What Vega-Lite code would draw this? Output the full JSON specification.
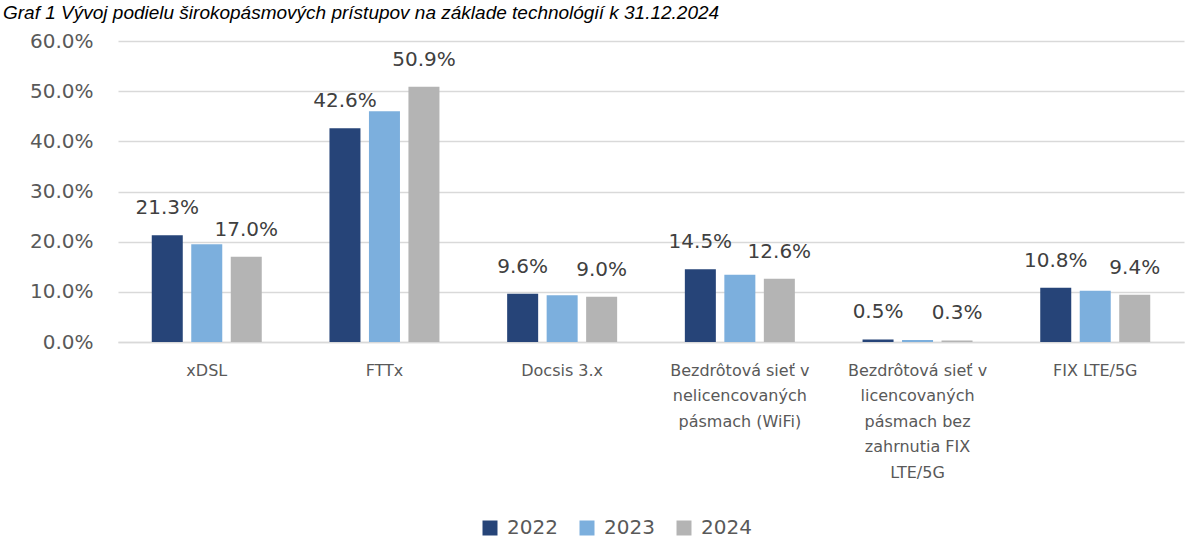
{
  "$schema": "https://vega.github.io/schema/vega-lite/v6.json",
  "autosize": {"type": "none"},
  "width": 1066,
  "height": 301,
  "padding": {"left": 118, "top": 41, "right": 19, "bottom": 217},
  "background": "white",
  "title": {
    "text": "Graf 1 Vývoj podielu širokopásmových prístupov na základe technológií k 31.12.2024",
    "anchor": "start",
    "frame": "group",
    "orient": "top",
    "baseline": "alphabetic",
    "offset": 16,
    "dy": 23,
    "dx": -115,
    "font": "Liberation Sans",
    "fontStyle": "italic",
    "fontWeight": "normal",
    "fontSize": 19,
    "color": "#000000"
  },
  "data": {
    "values": [
      {"tech": "xDSL", "year": "2022", "share": 0.213},
      {"tech": "xDSL", "year": "2023", "share": 0.195},
      {"tech": "xDSL", "year": "2024", "share": 0.170},
      {"tech": "FTTx", "year": "2022", "share": 0.426},
      {"tech": "FTTx", "year": "2023", "share": 0.460},
      {"tech": "FTTx", "year": "2024", "share": 0.509},
      {"tech": "Docsis 3.x", "year": "2022", "share": 0.096},
      {"tech": "Docsis 3.x", "year": "2023", "share": 0.093},
      {"tech": "Docsis 3.x", "year": "2024", "share": 0.090},
      {"tech": "Bezdrôtová sieť v\nnelicencovaných\npásmach (WiFi)", "year": "2022", "share": 0.145},
      {"tech": "Bezdrôtová sieť v\nnelicencovaných\npásmach (WiFi)", "year": "2023", "share": 0.134},
      {"tech": "Bezdrôtová sieť v\nnelicencovaných\npásmach (WiFi)", "year": "2024", "share": 0.126},
      {"tech": "Bezdrôtová sieť v\nlicencovaných\npásmach bez\nzahrnutia FIX\nLTE/5G", "year": "2022", "share": 0.005},
      {"tech": "Bezdrôtová sieť v\nlicencovaných\npásmach bez\nzahrnutia FIX\nLTE/5G", "year": "2023", "share": 0.004},
      {"tech": "Bezdrôtová sieť v\nlicencovaných\npásmach bez\nzahrnutia FIX\nLTE/5G", "year": "2024", "share": 0.003},
      {"tech": "FIX LTE/5G", "year": "2022", "share": 0.108},
      {"tech": "FIX LTE/5G", "year": "2023", "share": 0.102},
      {"tech": "FIX LTE/5G", "year": "2024", "share": 0.094}
    ]
  },
  "encoding": {
    "x": {
      "field": "tech",
      "type": "nominal",
      "sort": null,
      "title": null,
      "scale": {"paddingInner": 0.381, "paddingOuter": 0.19},
      "axis": {
        "labelAngle": 0,
        "labelExpr": "split(datum.label, '\\n')",
        "labelLineHeight": 25.6,
        "labelFont": "DejaVu Sans",
        "labelFontSize": 16,
        "labelColor": "#595959",
        "labelPadding": 20,
        "labelBaseline": "top",
        "labelLimit": 0,
        "ticks": false,
        "domain": true,
        "domainColor": "#D9D9D9",
        "domainWidth": 1.3,
        "grid": false
      }
    },
    "xOffset": {
      "field": "year",
      "type": "nominal",
      "scale": {"paddingInner": 0.215, "paddingOuter": 0}
    },
    "y": {
      "field": "share",
      "type": "quantitative",
      "title": null,
      "scale": {"domain": [0, 0.6], "nice": false},
      "axis": {
        "values": [0, 0.1, 0.2, 0.3, 0.4, 0.5, 0.6],
        "format": ".1%",
        "labelFont": "DejaVu Sans",
        "labelFontSize": 20,
        "labelColor": "#595959",
        "labelPadding": 25,
        "ticks": false,
        "domain": false,
        "grid": true,
        "gridColor": "#D9D9D9",
        "gridWidth": 1.3
      }
    }
  },
  "layer": [
    {
      "mark": {"type": "bar"},
      "encoding": {
        "color": {
          "field": "year",
          "type": "nominal",
          "scale": {"domain": ["2022", "2023", "2024"], "range": ["#264478", "#7CAFDD", "#B4B4B4"]},
          "legend": {
            "title": null,
            "orient": "none",
            "direction": "horizontal",
            "legendX": 362,
            "legendY": 477,
            "padding": 0,
            "symbolType": "square",
            "symbolSize": 225,
            "symbolStrokeWidth": 0,
            "symbolOpacity": 1,
            "labelFont": "DejaVu Sans",
            "labelFontSize": 20,
            "labelColor": "#595959",
            "labelOffset": 7,
            "columnPadding": 19
          }
        }
      }
    },
    {
      "transform": [{"filter": "datum.year != '2023'"}],
      "mark": {
        "type": "text",
        "baseline": "bottom",
        "align": "center",
        "dy": -17,
        "font": "DejaVu Sans",
        "fontSize": 20,
        "color": "#404040"
      },
      "encoding": {
        "text": {"field": "share", "type": "quantitative", "format": ".1%"}
      }
    }
  ],
  "config": {
    "view": {"stroke": null},
    "font": "DejaVu Sans"
  }
}
